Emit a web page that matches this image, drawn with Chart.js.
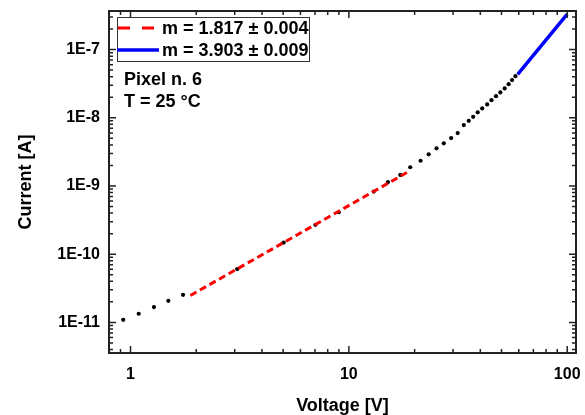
<!DOCTYPE html>
<html>
<head>
<meta charset="utf-8">
<script src="https://cdn.jsdelivr.net/npm/chart.js@4/dist/chart.umd.min.js"></script>
<style>
  html, body { margin: 0; padding: 0; background: #fff; }
  #wrap { width: 585px; height: 415px; }
</style>
</head>
<body>
<div id="wrap"><canvas id="iv" width="585" height="415"></canvas></div>
<script>
// Measured I-V curve (voltage in V, current in A)
const voltage = [0.926, 1.09, 1.28, 1.49, 1.74,
                 3.08, 5.03, 7.03, 8.99, 13.0, 15.1, 17.2,
                 19.1, 21.3, 23.2, 25.2, 27.2, 29.4, 31.5,
                 33.6, 35.4, 37.1, 38.9, 40.8, 43.0, 45.0, 47.2, 49.4, 51.7, 53.9, 55.9, 57.9];
const current = [1.09e-11, 1.34e-11, 1.68e-11, 2.07e-11, 2.54e-11,
                 6.04e-11, 1.48e-10, 2.69e-10, 4.12e-10, 8.26e-10, 1.14e-9, 1.45e-9,
                 1.88e-9, 2.34e-9, 2.91e-9, 3.56e-9, 4.22e-9, 5.04e-9, 5.96e-9,
                 7.81e-9, 9.02e-9, 1.03e-8, 1.20e-8, 1.37e-8, 1.57e-8, 1.81e-8, 2.07e-8, 2.35e-8, 2.69e-8, 3.10e-8, 3.56e-8, 4.07e-8];

// Power-law fits (end points of each fitted segment)
const fitLowV = [1.88, 19.1];
const fitLowI = [2.48e-11, 1.675e-9];
const fitHighV = [59.3, 100];
const fitHighI = [4.31e-8, 3.31e-7];
const fitLowLabel = 'm = 1.817 \u00b1 0.004';
const fitHighLabel = 'm = 3.903 \u00b1 0.009';

// Axis ranges and labelled ticks
const xRange = [0.797, 109.7];
const yRange = [3.56e-12, 3.67e-7];
const xTickValues = [1, 10, 100];
const xTickLabels = ['1', '10', '100'];
const yTickValues = [1e-11, 1e-10, 1e-9, 1e-8, 1e-7];
const yTickLabels = ['1E-11', '1E-10', '1E-9', '1E-8', '1E-7'];
const notes = ['Pixel n. 6', 'T = 25 \u00b0C'];

const FONT = "'Liberation Sans', Arial, Helvetica, sans-serif";
const toPoints = (xs, ys) => xs.map((v, i) => ({ x: v, y: ys[i] }));
const noEdgePadding = s => { s.paddingLeft = 0; s.paddingRight = 0; s.paddingTop = 0; s.paddingBottom = 0; };

// Frame with inward log ticks on all four sides, plus the legend box and notes
const framePlugin = {
  id: 'frame',
  afterDraw(chart) {
    const { ctx, chartArea: a, scales } = chart;
    const xs = scales.x, ys = scales.y;
    ctx.save();
    ctx.strokeStyle = '#222';
    ctx.lineWidth = 1.5;
    const minorTicks = (scale, fn) => {
      const lo = Math.floor(Math.log10(scale.min)), hi = Math.ceil(Math.log10(scale.max));
      for (let n = lo; n <= hi; n++) {
        for (let k = 1; k <= 9; k++) {
          const v = k * Math.pow(10, n);
          if (v < scale.min || v > scale.max) continue;
          fn(scale.getPixelForValue(v), k === 1 ? 7 : 4);
        }
      }
    };
    ctx.beginPath();
    minorTicks(xs, (p, len) => {
      ctx.moveTo(p, a.bottom); ctx.lineTo(p, a.bottom - len);
      ctx.moveTo(p, a.top); ctx.lineTo(p, a.top + len);
    });
    minorTicks(ys, (p, len) => {
      ctx.moveTo(a.left, p); ctx.lineTo(a.left + len, p);
      ctx.moveTo(a.right, p); ctx.lineTo(a.right - len, p);
    });
    ctx.stroke();
    ctx.lineWidth = 2;
    ctx.strokeRect(a.left, a.top, a.right - a.left, a.bottom - a.top);

    // legend
    const ds = chart.data.datasets;
    const bx = a.left + 8, by = a.top + 6, bw = 192, bh = 44;
    ctx.fillStyle = '#fff';
    ctx.fillRect(bx, by, bw, bh);
    ctx.lineWidth = 1;
    ctx.strokeStyle = '#333';
    ctx.strokeRect(bx + 0.5, by + 0.5, bw, bh);
    const rows = [by + 11, by + 33];
    ctx.lineWidth = 3;
    ctx.strokeStyle = ds[0].borderColor;
    ctx.setLineDash([12, 12]);
    ctx.beginPath(); ctx.moveTo(bx + 1, rows[0]); ctx.lineTo(bx + 39, rows[0]); ctx.stroke();
    ctx.setLineDash([]);
    ctx.strokeStyle = ds[1].borderColor;
    ctx.lineWidth = 3.5;
    ctx.beginPath(); ctx.moveTo(bx, rows[1]); ctx.lineTo(bx + 42, rows[1]); ctx.stroke();
    ctx.fillStyle = '#000';
    ctx.font = 'bold 18px ' + FONT;
    ctx.textBaseline = 'middle';
    ctx.textAlign = 'left';
    ctx.fillText(ds[0].label, bx + 45, rows[0] + 1);
    ctx.fillText(ds[1].label, bx + 45, rows[1] + 1);

    // notes
    ctx.fillText(notes[0], a.left + 15, a.top + 69);
    ctx.fillText(notes[1], a.left + 15, a.top + 91);
    ctx.restore();
  }
};

new Chart(document.getElementById('iv'), {
  type: 'scatter',
  data: {
    datasets: [
      {
        label: fitLowLabel,
        data: toPoints(fitLowV, fitLowI),
        showLine: true,
        borderColor: '#ff0000',
        borderWidth: 3,
        borderDash: [7, 4],
        pointRadius: 0,
        order: 0
      },
      {
        label: fitHighLabel,
        data: toPoints(fitHighV, fitHighI),
        showLine: true,
        borderColor: '#0000ff',
        borderWidth: 3.5,
        pointRadius: 0,
        order: 0
      },
      {
        label: 'I-V',
        data: toPoints(voltage, current),
        showLine: false,
        backgroundColor: '#000',
        borderWidth: 0,
        pointRadius: 2.1,
        order: 1
      }
    ]
  },
  options: {
    responsive: false,
    animation: false,
    devicePixelRatio: 1,
    layout: { padding: { left: 0, right: 9, top: 11, bottom: 0 } },
    plugins: { legend: { display: false }, tooltip: { enabled: false } },
    scales: {
      x: {
        type: 'logarithmic',
        min: xRange[0],
        max: xRange[1],
        afterBuildTicks: s => { s.ticks = xTickValues.map(v => ({ value: v })); },
        afterFit: s => { s.height = 62; noEdgePadding(s); },
        grid: { display: false, drawTicks: false },
        border: { display: false },
        ticks: {
          autoSkip: false,
          maxRotation: 0,
          padding: 12,
          color: '#000',
          font: { family: FONT, weight: 'bold', size: 16 },
          callback: v => { const i = xTickValues.indexOf(v); return i >= 0 ? xTickLabels[i] : ''; }
        },
        title: {
          display: true,
          text: 'Voltage [V]',
          color: '#000',
          padding: 0,
          font: { family: FONT, weight: 'bold', size: 18, lineHeight: 1 }
        }
      },
      y: {
        type: 'logarithmic',
        min: yRange[0],
        max: yRange[1],
        afterBuildTicks: s => { s.ticks = yTickValues.map(v => ({ value: v })); },
        afterFit: s => { s.width = 109; noEdgePadding(s); },
        grid: { display: false, drawTicks: false },
        border: { display: false },
        ticks: {
          autoSkip: false,
          padding: 9,
          color: '#000',
          font: { family: FONT, weight: 'bold', size: 16 },
          callback: v => {
            const i = yTickValues.findIndex(t => Math.abs(t - v) / t < 1e-6);
            return i >= 0 ? yTickLabels[i] : '';
          }
        },
        title: {
          display: true,
          text: 'Current [A]',
          color: '#000',
          padding: { top: 17, bottom: 0 },
          font: { family: FONT, weight: 'bold', size: 18, lineHeight: 1 }
        }
      }
    }
  },
  plugins: [framePlugin]
});
</script>
</body>
</html>
